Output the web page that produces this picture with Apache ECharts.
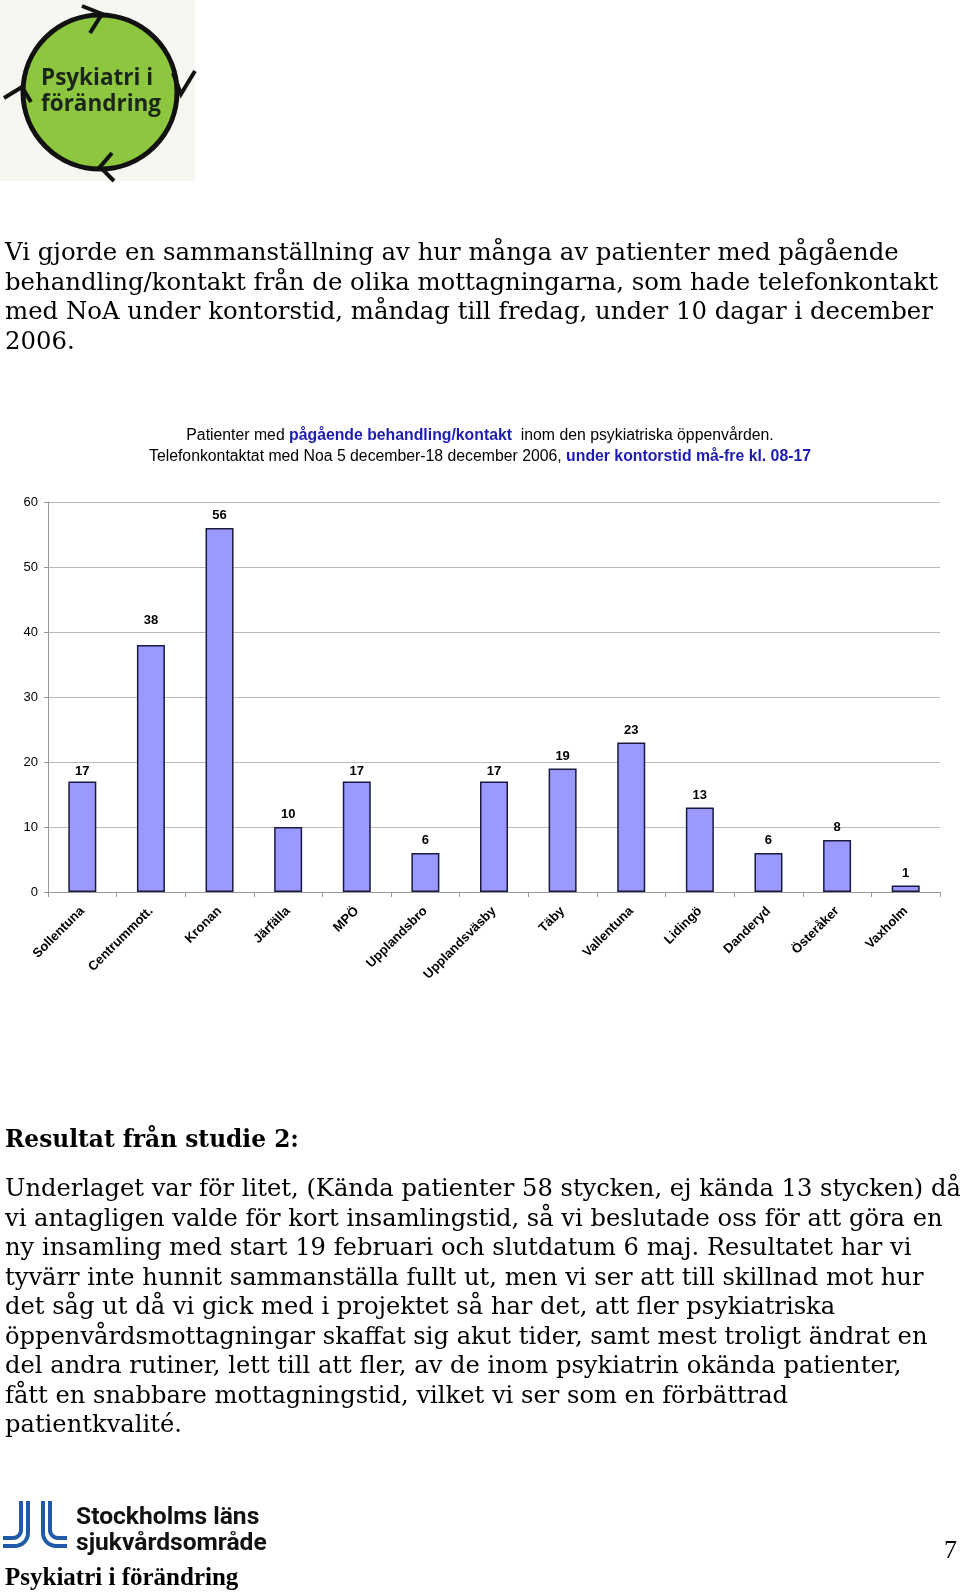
<!DOCTYPE html>
<html>
<head>
<meta charset="utf-8">
<script src="https://cdn.jsdelivr.net/npm/echarts@6/dist/echarts.min.js"></script>
<style>
html,body{margin:0;padding:0;background:#fff;}
#page{width:960px;height:1593px;}
</style>
</head>
<body>
<div id="page"></div>
<script>
// ---- data ----
const categories = ['Sollentuna','Centrummott.','Kronan','Järfälla','MPÖ','Upplandsbro','Upplandsväsby','Täby','Vallentuna','Lidingö','Danderyd','Österåker','Vaxholm'];
const values = [17,38,56,10,17,6,17,19,23,13,6,8,1];
const yTicks = [0,10,20,30,40,50,60];

const intro = [
  'Vi gjorde en sammanställning av hur många av patienter med pågående',
  'behandling/kontakt från de olika mottagningarna, som hade telefonkontakt',
  'med NoA under kontorstid, måndag till fredag, under 10 dagar i december',
  '2006.'
];
const heading = 'Resultat från studie 2:';
const body = [
  'Underlaget var för litet, (Kända patienter 58 stycken, ej kända 13 stycken) då',
  'vi antagligen valde för kort insamlingstid, så vi beslutade oss för att göra en',
  'ny insamling med start 19 februari och slutdatum 6 maj. Resultatet har vi',
  'tyvärr inte hunnit sammanställa fullt ut, men vi ser att till skillnad mot hur',
  'det såg ut då vi gick med i projektet så har det, att fler psykiatriska',
  'öppenvårdsmottagningar skaffat sig akut tider, samt mest troligt ändrat en',
  'del andra rutiner, lett till att fler, av de inom psykiatrin okända patienter,',
  'fått en snabbare mottagningstid, vilket vi ser som en förbättrad',
  'patientkvalité.'
];

const serif = '"DejaVu Serif", serif';
const sans = '"Liberation Sans", Arial, sans-serif';

// per-bar label nudges (style only, as in the original Excel chart)
const labelNudge = {1: -12, 0: 2, 4: 2, 6: 2};

const graphics = [];
function textEl(t, x, y, font, opts) {
  graphics.push({
    type: 'text', x: x, y: y, silent: true,
    style: Object.assign({text: t, font: font, fill: '#000', textVerticalAlign: 'middle', textAlign: 'left'}, opts || {})
  });
}

// top logo
graphics.push({type:'rect', silent:true, shape:{x:0,y:0,width:195,height:181}, style:{fill:'#f7f7f2'}});
graphics.push({type:'circle', silent:true, shape:{cx:100,cy:92,r:77}, style:{fill:'#8dc63f', stroke:'#111', lineWidth:5}});
const arrowSegs = [[[82,6],[102,14],[90,33]],[[173,73],[181,94],[195,71]],[[114,181],[100,167],[112,153]],[[4,98],[22,87],[31,102]]];
arrowSegs.forEach(p => graphics.push({type:'polyline', silent:true, shape:{points:p}, style:{stroke:'#111', lineWidth:4, fill:null}}));
textEl('Psykiatri i', 41, 79, 'bold 22.5px "Open Sans", sans-serif', {fill:'#1b261b'});
textEl('förändring', 41, 105, 'bold 22.5px "Open Sans", sans-serif', {fill:'#1b261b'});

// intro text
intro.forEach((l, i) => textEl(l, 5, 254 + i * 29.5, '24.4px ' + serif));

// chart title
const richStyle = { n:{font:'15.8px '+sans, fill:'#000'}, b:{font:'bold 15.8px '+sans, fill:'#1c1cb4'} };
graphics.push({
  type:'text', x:480, y:436, silent:true,
  style:{ text:'{n|Patienter med }{b|pågående behandling/kontakt}{n|  inom den psykiatriska öppenvården.}',
    textAlign:'center', textVerticalAlign:'middle', rich: richStyle }
});
graphics.push({
  type:'text', x:480, y:457, silent:true,
  style:{ text:'{n|Telefonkontaktat med Noa 5 december-18 december 2006, }{b|under kontorstid må-fre kl. 08-17}',
    textAlign:'center', textVerticalAlign:'middle', rich: richStyle }
});

// heading + body
textEl(heading, 5, 1141, 'bold 23.3px ' + serif);
body.forEach((l, i) => textEl(l, 5, 1190 + i * 29.5, '24.2px ' + serif));

// footer logo mark (J J L L strokes)
const blue = '#1f5ba8';
function hook(x, top, yBar, r, dir, xEnd) {
  const pts = [[x, top], [x, yBar - r]];
  for (let k = 1; k <= 8; k++) {
    const a = (Math.PI / 2) * k / 8;
    pts.push([x + dir * r * (1 - Math.cos(a)), yBar - r + r * Math.sin(a)]);
  }
  pts.push([xEnd, yBar]);
  graphics.push({type:'polyline', silent:true, shape:{points:pts}, style:{stroke:blue, lineWidth:4, fill:null}});
}
hook(21, 1501, 1538, 8, -1, 3);
hook(28, 1501, 1546, 13, -1, 3);
hook(43, 1501, 1546, 13, 1, 67);
hook(50, 1501, 1538, 8, 1, 67);
textEl('Stockholms läns', 76, 1518, 'bold 24.6px Roboto, sans-serif', {fill:'#111'});
textEl('sjukvårdsområde', 76, 1544, 'bold 24.6px Roboto, sans-serif', {fill:'#111'});
textEl('Psykiatri i förändring', 5, 1579, 'bold 25px "Liberation Serif", serif');
textEl('7', 944, 1551, '26px "Liberation Serif", serif');

const barData = values.map((v, i) => labelNudge[i] !== undefined ? {value: v, label: {offset: [0, labelNudge[i]]}} : v);

const chart = echarts.init(document.getElementById('page'), null, {renderer:'canvas'});
chart.setOption({
  animation: false,
  backgroundColor: '#fff',
  graphic: graphics,
  grid: {left:48, right:20, top:502, bottom:701, containLabel:false},
  xAxis: {
    type:'category', data: categories,
    axisLine:{lineStyle:{color:'#999', width:1}},
    axisTick:{show:true, length:5, lineStyle:{color:'#999'}},
    axisLabel:{rotate:45, margin:17, color:'#000', fontWeight:'bold', fontSize:13, fontFamily:sans, interval:0}
  },
  yAxis: {
    type:'value', min: yTicks[0], max: yTicks[yTicks.length-1], interval: 10,
    axisLine:{show:true, lineStyle:{color:'#999'}},
    axisTick:{show:true, length:4, lineStyle:{color:'#999'}},
    axisLabel:{color:'#000', fontSize:13, fontFamily:sans, margin:10},
    splitLine:{lineStyle:{color:'#bbb', width:1}}
  },
  series: [{
    type:'bar', data: barData, barWidth: 28,
    itemStyle:{color:'#9999ff', borderColor:'#1a1a40', borderWidth:1.5},
    label:{show:true, position:'top', distance:6, color:'#000', fontWeight:'bold', fontSize:13, fontFamily:sans}
  }]
});
</script>
</body>
</html>
